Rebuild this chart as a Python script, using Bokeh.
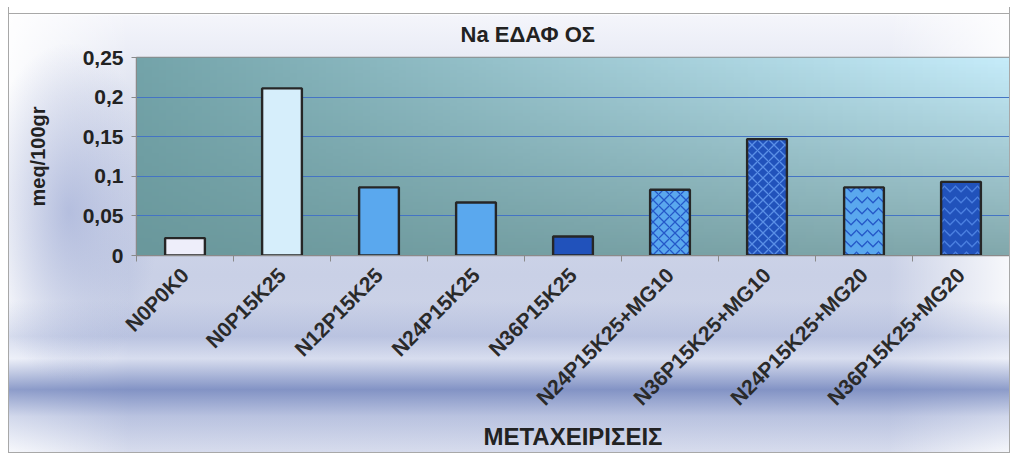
import numpy as np
from bokeh.plotting import figure
from bokeh.models import FixedTicker, ColumnDataSource, Range1d
from bokeh.embed import file_html
from bokeh.resources import INLINE

# ---- data ----
categories = ["N0P0K0", "N0P15K25", "N12P15K25", "N24P15K25", "N36P15K25",
              "N24P15K25+MG10", "N36P15K25+MG10", "N24P15K25+MG20", "N36P15K25+MG20"]
values = [0.022, 0.211, 0.086, 0.067, 0.024, 0.083, 0.147, 0.086, 0.093]
y_ticks = [0, 0.05, 0.1, 0.15, 0.2, 0.25]
y_tick_labels = ["0", "0,05", "0,1", "0,15", "0,2", "0,25"]
title_text = "Na ΕΔΑΦ ΟΣ"
x_title = "ΜΕΤΑΧΕΙΡΙΣΕΙΣ"
y_title = "meq/100gr"

# ---- styles ----
fill_colors = ["#eeeefa", "#d6eefb", "#5aa8ee", "#5aa8ee", "#2152bb",
               "#5aa8ee", "#2152bb", "#5aa8ee", "#2152bb"]
hatch_patterns = [" ", " ", " ", " ", " ", "diagonal_cross", "diagonal_cross",
                  "horizontal_wave", "horizontal_wave"]
hatch_colors = ["#000000"] * 5 + ["#2458c8", "#5a8fe6", "#2458c8", "#4a7fe0"]

FONT = "Liberation Sans"
xs = list(range(len(categories)))
y_max = y_ticks[-1]

p = figure(width=1002, height=446, output_backend="svg", toolbar_location=None,
           x_range=Range1d(-0.5, len(categories) - 0.5), y_range=Range1d(0, y_max),
           min_border_left=127, min_border_right=2, min_border_top=50,
           min_border_bottom=198)

p.styles = {
    "margin-left": "8px",
    "margin-top": "7px",
    "background": (
        "linear-gradient(#ffffff, #ffffff) 0 0 / 100% 6px no-repeat,"
        "linear-gradient(#a8a8a8, #a8a8a8) 0 6px / 100% 1px no-repeat,"
        "radial-gradient(ellipse 9% 38% at 6% 46%, rgba(140,155,205,0.55), rgba(140,155,205,0) 100%),"
        "linear-gradient(to bottom, rgba(120,135,190,0) 66%, rgba(150,165,210,0.35) 74%, rgba(225,230,245,0.5) 79%,"
        " rgba(105,125,185,0.75) 86%, rgba(150,165,210,0.4) 92%, rgba(230,235,248,0.2) 100%),"
        "linear-gradient(to right, rgba(255,255,255,0.9) 0%, rgba(255,255,255,0) 12%, rgba(255,255,255,0) 88%, rgba(255,255,255,0.85) 100%),"
        "linear-gradient(to bottom, #ffffff 0%, #ffffff 1.5%, #f4f5fb 2%, #dfe3f0 20%, #c9d0e6 60%, #d3d8ea 100%)"
    ),
    "border-left": "1px solid #a8a8a8",
    "border-right": "1px solid #a8a8a8",
    "border-bottom": "1px solid #a8a8a8",
}
p.border_fill_alpha = 0
p.background_fill_alpha = 0
p.outline_line_color = "#8a8a8a"
p.outline_line_width = 1.5

# plot-area gradient background
ny, nx = 60, 120
tl = np.array([116, 164, 170]); tr = np.array([198, 236, 250])
bl = np.array([106, 152, 156]); br = np.array([130, 168, 172])
u = np.linspace(0, 1, nx)[None, :, None]
v = np.linspace(0, 1, ny)[:, None, None]  # 0 bottom, 1 top
col = (bl * (1 - u) * (1 - v) + br * u * (1 - v) + tl * (1 - u) * v + tr * u * v)
img = np.empty((ny, nx), dtype=np.uint32)
view = img.view(dtype=np.uint8).reshape((ny, nx, 4))
view[:, :, 0] = col[:, :, 0]
view[:, :, 1] = col[:, :, 1]
view[:, :, 2] = col[:, :, 2]
view[:, :, 3] = 255
p.image_rgba(image=[img], x=-0.5, y=0, dw=len(categories), dh=y_max, level="image")

src = ColumnDataSource(dict(x=xs, top=values, fill=fill_colors, hp=hatch_patterns, hc=hatch_colors))
p.vbar(x="x", top="top", width=0.41, source=src, fill_color="fill",
       line_color="#262626", line_width=2.4,
       hatch_pattern="hp", hatch_color="hc", hatch_scale=11, hatch_weight=1.3)

# title
p.title.text = title_text
p.title.text_font = FONT
p.title.text_font_size = "22px"
p.title.text_font_style = "bold"
p.title.text_color = "#222222"
p.title.align = "left"
p.title.offset = 324
p.title.standoff = 21

# grid
p.xgrid.visible = False
p.ygrid.ticker = FixedTicker(ticks=y_ticks[1:-1])
p.ygrid.grid_line_color = "#4474c4"
p.ygrid.grid_line_width = 1

# y axis
p.yaxis.ticker = FixedTicker(ticks=y_ticks)
p.yaxis.major_label_overrides = {t: l for t, l in zip(y_ticks, y_tick_labels)}
p.yaxis.minor_tick_line_color = None
p.yaxis.major_tick_out = 5
p.yaxis.major_tick_in = 0
p.yaxis.axis_line_color = "#8a8a8a"
p.yaxis.major_tick_line_color = "#8a8a8a"
p.yaxis.major_label_text_font = FONT
p.yaxis.major_label_text_font_size = "21px"
p.yaxis.major_label_text_font_style = "bold"
p.yaxis.major_label_text_color = "#222222"
p.yaxis.major_label_standoff = 8
p.yaxis.axis_label = y_title
p.yaxis.axis_label_text_font = FONT
p.yaxis.axis_label_text_font_size = "20px"
p.yaxis.axis_label_text_font_style = "bold"
p.yaxis.axis_label_text_color = "#222222"
p.yaxis.axis_label_standoff = 31

# x axis
bounds = [i - 0.5 for i in range(len(categories) + 1)]
p.xaxis.ticker = FixedTicker(ticks=xs, minor_ticks=bounds)
p.xaxis.major_label_overrides = {i: c for i, c in zip(xs, categories)}
p.xaxis.major_tick_line_color = None
p.xaxis.major_tick_out = 0
p.xaxis.minor_tick_line_color = "#8a8a8a"
p.xaxis.minor_tick_out = 6
p.xaxis.minor_tick_in = 0
p.xaxis.axis_line_color = "#8a8a8a"
p.xaxis.major_label_orientation = np.pi / 4
p.xaxis.major_label_text_font = FONT
p.xaxis.major_label_text_font_size = "21px"
p.xaxis.major_label_text_font_style = "bold"
p.xaxis.major_label_text_color = "#2a2a2a"
p.xaxis.major_label_standoff = 10
p.xaxis.axis_label = x_title
p.xaxis.axis_label_text_font = FONT
p.xaxis.axis_label_text_font_size = "24px"
p.xaxis.axis_label_text_font_style = "bold"
p.xaxis.axis_label_text_color = "#222222"
p.xaxis.axis_label_standoff = 2

open("out.html", "w").write(file_html(p, INLINE))
